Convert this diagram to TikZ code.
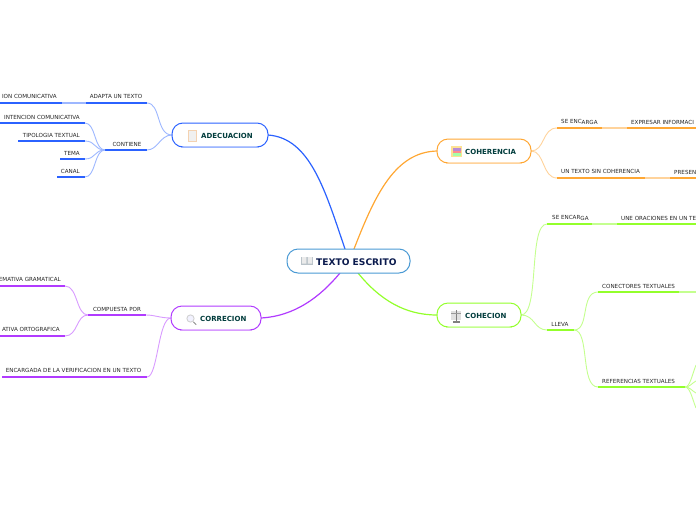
\documentclass[tikz,border=0pt]{standalone}
\usepackage{fontspec}
\setmainfont{DejaVu Sans}
\definecolor{cblue}{HTML}{2B62FF}
\definecolor{cblueL}{HTML}{9DB7FF}
\definecolor{corange}{HTML}{FFA733}
\definecolor{corangeL}{HTML}{FFD39B}
\definecolor{cgreen}{HTML}{93FF2B}
\definecolor{cgreenL}{HTML}{C4FF8F}
\definecolor{cpurple}{HTML}{B13BFF}
\definecolor{cpurpleL}{HTML}{D89BFF}
\definecolor{ccenter}{HTML}{4A9AD4}
\definecolor{ttl}{HTML}{003C3C}
\definecolor{ttlc}{HTML}{0A1A4D}
\tikzset{
  x=1pt,y=-1pt,
  lbl/.style={font=\fontsize{5.6}{6.5}\selectfont,text=black!85,inner sep=0pt,yshift=-0.5pt},
  ttlb/.style={font=\bfseries\fontsize{7}{8}\selectfont,text=ttl,inner sep=0pt,anchor=west},
  ttlc/.style={font=\bfseries\fontsize{9.1}{10}\selectfont,text=ttlc,inner sep=0pt,anchor=west},
  topic/.style={rounded corners=11pt,fill=white,line width=1pt},
  lnk/.style={line width=0.9pt},
  bar/.style={line width=1.5pt},
  main/.style={line width=1.2pt},
}
\begin{document}
\begin{tikzpicture}
\useasboundingbox (0,0) rectangle (696,520);
% main connectors
\coordinate (cA) at (345,249); \coordinate (cB) at (354,249);
\coordinate (cC) at (358,273); \coordinate (cD) at (340,273);
\coordinate (adL) at (172,135); \coordinate (adR) at (268,135);
\coordinate (coL) at (437,151); \coordinate (coR) at (531,151);
\coordinate (chL) at (437,315); \coordinate (chR) at (521,315);
\coordinate (crL) at (171,318); \coordinate (crR) at (261,318);
\draw[main,cblue] (cA) .. controls (325,190) and (310,138) .. (adR);
\draw[main,corange] (cB) .. controls (375,195) and (395,152) .. (coL);
\draw[main,cgreen] (cC) .. controls (380,300) and (405,315) .. (chL);
\draw[main,cpurple] (cD) .. controls (320,297) and (295,316) .. (crR);
% ADECUACION branch
\coordinate (a1R) at (147,103); \coordinate (a1L) at (86,103); \coordinate (a0R) at (62,103); \coordinate (a0L) at (0,103);
\coordinate (a2R) at (147,150); \coordinate (a2L) at (105,150);
\coordinate (a3R) at (85,123); \coordinate (a3L) at (0,123);
\coordinate (a4R) at (85,141); \coordinate (a4L) at (18,141);
\coordinate (a5R) at (85,159); \coordinate (a5L) at (60,159);
\coordinate (a6R) at (85,177); \coordinate (a6L) at (57,177);
\draw[lnk,cblueL] (adL) .. controls (156,135) and (161,103) .. (a1R);
\draw[lnk,cblueL] (adL) .. controls (160,135) and (158,150) .. (a2R);
\draw[bar,cblue] (a1L) -- (a1R);
\draw[bar,cblueL] (a0R) -- (a1L);
\draw[bar,cblue] (a0L) -- (a0R);
\draw[bar,cblue] (a2L) -- (a2R);
\foreach \p/\q in {a3R/123,a4R/141,a5R/159,a6R/177}{\draw[lnk,cblueL] (a2L) .. controls (94,150) and (96,\q) .. (\p);}
\draw[bar,cblue] (a3L) -- (a3R);
\draw[bar,cblue] (a4L) -- (a4R);
\draw[bar,cblue] (a5L) -- (a5R);
\draw[bar,cblue] (a6L) -- (a6R);
\node[lbl] (t1) at (116,96) {ADAPTA UN TEXTO};
\node[lbl,anchor=east] (t0) at (57,96) {ION COMUNICATIVA};
\node[lbl] (t2) at (127,144) {CONTIENE};
\node[lbl,anchor=east] (t3) at (80,117) {INTENCION COMUNICATIVA};
\node[lbl,anchor=east] (t4) at (80,135) {TIPOLOGIA TEXTUAL};
\node[lbl,anchor=east] (t5) at (80,153) {TEMA};
\node[lbl,anchor=east] (t6) at (80,171) {CANAL};
% CORRECION branch
\coordinate (r1R) at (146,315); \coordinate (r1L) at (88,315);
\coordinate (r2R) at (65,286); \coordinate (r2L) at (0,286);
\coordinate (r3R) at (65,336); \coordinate (r3L) at (0,336);
\coordinate (r4R) at (147,377); \coordinate (r4L) at (2,377);
\draw[lnk,cpurpleL] (crL) .. controls (160,318) and (155,315) .. (r1R);
\draw[lnk,cpurpleL] (crL) .. controls (158,318) and (158,377) .. (r4R);
\draw[lnk,cpurpleL] (r1L) .. controls (76,315) and (78,286) .. (r2R);
\draw[lnk,cpurpleL] (r1L) .. controls (76,315) and (78,336) .. (r3R);
\draw[bar,cpurple] (r1L) -- (r1R);
\draw[bar,cpurple] (r2L) -- (r2R);
\draw[bar,cpurple] (r3L) -- (r3R);
\draw[bar,cpurple] (r4L) -- (r4R);
\node[lbl] (u1) at (117,309) {COMPUESTA POR};
\node[lbl,anchor=east] (u2) at (61,279) {EMATIVA GRAMATICAL};
\node[lbl,anchor=east] (u3) at (60,329) {ATIVA ORTOGRAFICA};
\node[lbl] (u4) at (73.5,370) {ENCARGADA DE LA VERIFICACION EN UN TEXTO};
% COHERENCIA branch
\coordinate (h1L) at (557,128); \coordinate (h1M) at (602,128); \coordinate (h1N) at (627,128); \coordinate (h1R) at (696,128);
\coordinate (h2L) at (557,178); \coordinate (h2M) at (645,178); \coordinate (h2N) at (670,178); \coordinate (h2R) at (696,178);
\draw[lnk,corangeL] (coR) .. controls (545,151) and (542,128) .. (h1L);
\draw[lnk,corangeL] (coR) .. controls (545,151) and (542,178) .. (h2L);
\draw[bar,corange] (h1L) -- (h1M);
\draw[bar,corangeL] (h1M) -- (h1N);
\draw[bar,corange] (h1N) -- (h1R);
\draw[bar,corange] (h2L) -- (h2M);
\draw[bar,corangeL] (h2M) -- (h2N);
\draw[bar,corange] (h2N) -- (h2R);
\node[lbl,anchor=west] (v1) at (561,121.5) {SE ENC\raisebox{-0.7pt}{ARGA}};
\node[lbl,anchor=west] (v2) at (631,122) {EXPRESAR INFORMACI};
\node[lbl,anchor=west] (v3) at (561,171) {UN TE\raisebox{-0.7pt}{XTO SIN COHERENCIA}};
\node[lbl,anchor=west] (v4) at (674,172) {PRESEN};
% COHECION branch
\coordinate (g1L) at (547,224); \coordinate (g1M) at (592,224); \coordinate (g1N) at (617,224); \coordinate (g1R) at (696,224);
\coordinate (g2L) at (547,330); \coordinate (g2R) at (574,330);
\coordinate (g3L) at (598,292); \coordinate (g3M) at (679,292); \coordinate (g3R) at (696,292);
\coordinate (g4L) at (598,387); \coordinate (g4R) at (685,387);
\coordinate (g5) at (696,365); \coordinate (g6) at (696,381); \coordinate (g7) at (696,393); \coordinate (g8) at (696,408);
\draw[lnk,cgreenL] (chR) .. controls (540,315) and (528,224) .. (g1L);
\draw[lnk,cgreenL] (chR) .. controls (535,315) and (534,330) .. (g2L);
\draw[lnk,cgreenL] (g2R) .. controls (590,330) and (580,292) .. (g3L);
\draw[lnk,cgreenL] (g2R) .. controls (590,330) and (580,387) .. (g4L);
\draw[lnk,cgreenL] (g4R) .. controls (690,387) and (692,375) .. (g5);
\draw[lnk,cgreenL] (g4R) .. controls (690,387) and (692,383) .. (g6);
\draw[lnk,cgreenL] (g4R) .. controls (690,387) and (692,391) .. (g7);
\draw[lnk,cgreenL] (g4R) .. controls (690,387) and (692,398) .. (g8);
\draw[bar,cgreen] (g1L) -- (g1M);
\draw[bar,cgreenL] (g1M) -- (g1N);
\draw[bar,cgreen] (g1N) -- (g1R);
\draw[bar,cgreen] (g2L) -- (g2R);
\draw[bar,cgreen] (g3L) -- (g3M);
\draw[bar,cgreenL] (g3M) -- (g3R);
\draw[bar,cgreen] (g4L) -- (g4R);
\node[lbl,anchor=west] (w1) at (552,217.5) {SE ENCAR\raisebox{-0.7pt}{GA}};
\node[lbl,anchor=west] (w2) at (621,218) {UNE ORACIONES EN UN TE};
\node[lbl] (w3) at (560,324) {LLEVA};
\node[lbl,anchor=west] (w4) at (602,286) {CONECTORES TEXTUALES};
\node[lbl,anchor=west] (w5) at (602,381) {REFERENCIAS TEXTUALES};
% topics
\draw[topic,draw=cblue] (172,123) rectangle (268,147);
\draw[line width=1pt,cblueL] (181,147) -- (259,147);
\draw[topic,draw=corange] (437,139) rectangle (531,163);
\draw[line width=1pt,corangeL] (446,163) -- (522,163);
\draw[topic,draw=cgreen] (437,303) rectangle (521,327);
\draw[line width=1pt,cgreenL] (446,327) -- (512,327);
\draw[topic,draw=cpurple] (171,306) rectangle (261,330);
\draw[line width=1pt,cpurpleL] (180,330) -- (252,330);
\draw[topic,draw=ccenter] (287,249) rectangle (410,273);
% icons
\fill[black!6] (188,130) rectangle (196,141);
\draw[line width=0.7pt,orange!50!brown!35] (188,130) rectangle (196,141);
\draw[line width=0.9pt,black!45,line cap=round] (193.5,322) -- (196,324.5);
\draw[line width=0.9pt,black!18,fill=blue!5] (190.5,318.5) circle (3.6);
\fill[yellow!50!orange!40] (451,146) rectangle (462,157);
\fill[blue!50!purple!45] (452.5,147.5) rectangle (460.5,151);
\fill[red!45] (452.5,151) rectangle (460.5,153);
\fill[green!35] (452.5,153) rectangle (460.5,155.5);
\fill[black!12] (451,311) rectangle (461,320);
\draw[line width=0.9pt,black!50] (456,310) -- (456,322);
\draw[line width=0.5pt,black!40] (451,313) -- (461,313);
\fill[black!50] (452.5,321) rectangle (459.5,322.5);
\fill[ccenter!35!black!30] (301,256.5) rectangle (313,265);
\fill[black!8] (302,257) rectangle (306.4,263.5) (307.8,257) rectangle (312,263.5);
% titles
\node[ttlb] (ta) at (201,135.5) {ADECUACION};
\node[ttlb] (tb) at (465,151.5) {COHERENCIA};
\node[ttlb] (tc) at (465,315.5) {COHECION};
\node[ttlb] (td) at (200,318.5) {CORRECION};
\node[ttlc] (te) at (316,262) {TEXTO ESCRITO};
\end{tikzpicture}
\end{document}
